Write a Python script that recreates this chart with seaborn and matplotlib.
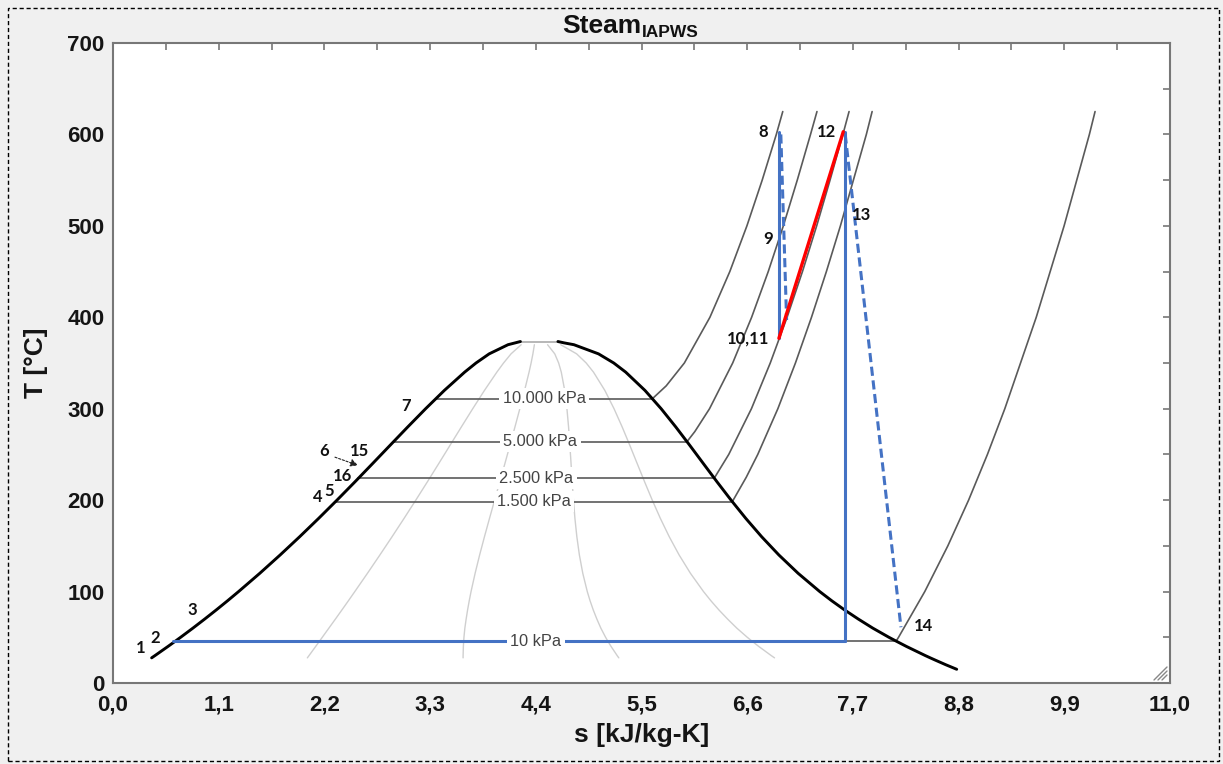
import numpy as np
import matplotlib
matplotlib.use("Agg")
import matplotlib.pyplot as plt
import matplotlib.patches as mpatches
import seaborn as sns

# ---------------- data ----------------
# saturation dome
T_sat = [15, 20, 25, 27.5, 30, 40, 45.81, 50, 60, 70, 80, 90, 100, 120, 140, 160,
         180, 200, 220, 240, 260, 280, 300, 320, 340, 350, 360, 370, 372]
s_f = [0.2245, 0.2966, 0.3673, 0.402, 0.4369, 0.5724, 0.6493, 0.7038, 0.8313, 0.9551,
       1.0756, 1.1929, 1.3069, 1.5278, 1.7391, 1.9427, 2.1396, 2.3309, 2.5178, 2.7015,
       2.8838, 3.0668, 3.2534, 3.4480, 3.6594, 3.7777, 3.9147, 4.1106, 4.185]
s_g = [8.7803, 8.6660, 8.5580, 8.505, 8.4533, 8.2569, 8.1502, 8.0748, 7.9072, 7.7553,
       7.6122, 7.4791, 7.3549, 7.1296, 6.9299, 6.7502, 6.5857, 6.4323, 6.2861, 6.1437,
       6.0019, 5.8571, 5.7045, 5.5362, 5.3357, 5.2112, 5.0526, 4.7971, 4.695]
crit_T = 373.5
crit_s_left = 4.24
crit_s_right = 4.63
liquid_start_T = 27.5
qualities = [0.2, 0.4, 0.6, 0.8]

# isobars: label, saturation T, superheated (T, s)
iso_labels = ["10.000 kPa", "5.000 kPa", "2.500 kPa", "1.500 kPa", "10 kPa"]
iso_Tsat = [311.0, 263.9, 224.0, 198.3, 45.81]
iso_sf = [3.360, 2.921, 2.554, 2.315, 0.6493]
iso_sg = [5.614, 5.973, 6.257, 6.445, 8.150]
iso_T_sup = [
    [311.0, 325, 350, 400, 450, 500, 550, 600, 625],
    [263.9, 275, 300, 350, 400, 450, 500, 550, 600, 625],
    [224.0, 250, 300, 350, 400, 450, 500, 550, 600, 625],
    [198.3, 225, 250, 300, 350, 400, 450, 500, 600, 625],
    [45.81, 50, 100, 150, 200, 250, 300, 400, 500, 600, 625],
]
iso_s_sup = [
    [5.614, 5.757, 5.946, 6.212, 6.419, 6.597, 6.756, 6.903, 6.970],
    [5.973, 6.055, 6.208, 6.449, 6.646, 6.819, 6.976, 7.121, 7.259, 7.326],
    [6.257, 6.408, 6.644, 6.840, 7.015, 7.175, 7.323, 7.462, 7.596, 7.660],
    [6.445, 6.590, 6.710, 6.919, 7.102, 7.269, 7.424, 7.570, 7.840, 7.900],
    [8.150, 8.175, 8.448, 8.688, 8.904, 9.100, 9.281, 9.608, 9.898, 10.161, 10.220],
]

# cycle lines
cond_s = [0.62, 7.62]
cond_T = [45.81, 45.81]
hp_ideal_s = [6.93, 6.93]
hp_ideal_T = [603, 377]
hp_real_s = [6.95, 7.01]
hp_real_T = [600, 397]
reheat_s = [6.93, 7.60]
reheat_T = [377, 603]
lp_ideal_s = [7.62, 7.62]
lp_ideal_T = [603, 45.81]
lp_real_s = [7.62, 8.20]
lp_real_T = [600, 61]

# state point labels
pt_labels = ["1", "2", "3", "4", "5", "16", "6", "15", "7", "8", "12", "9", "13", "10,11", "14"]
pt_s = [0.29, 0.44, 0.82, 2.13, 2.25, 2.39, 2.20, 2.56, 3.05, 6.77, 7.43, 6.82, 7.79, 6.61, 8.43]
pt_T = [38, 49, 80, 203, 210, 226, 254, 254, 303, 603, 603, 486, 512, 377, 62]
arrow_tail = (2.31, 247)
arrow_tip = (2.55, 238)

xtick_vals = [round(0.55 * i, 2) for i in range(21)]
ytick_vals = list(range(0, 701, 50))

# ---------------- styling ----------------
sns.set_theme(style="white")
plt.rcParams["font.family"] = ["Liberation Sans", "DejaVu Sans"]

W, H = 1223, 764
fig = plt.figure(figsize=(W / 100, H / 100), dpi=100, facecolor="#f0f0f0")
ax = fig.add_axes([113 / W, 1 - 683 / H, 1057 / W, 640 / H])
ax.set_facecolor("white")

blue = "#4472C4"
iso_col = "#5a5a5a"
q_col = "#cfcfcf"

# saturation dome
Ts = np.array(T_sat)
sf = np.array(s_f)
sg = np.array(s_g)
mask = Ts >= liquid_start_T
left_s = list(sf[mask]) + [crit_s_left]
left_T = list(Ts[mask]) + [crit_T]
right_s = [crit_s_right] + list(sg[::-1])
right_T = [crit_T] + list(Ts[::-1])
sns.lineplot(x=left_s, y=left_T, sort=False, estimator=None, color="black", lw=2.1, ax=ax, zorder=4)
sns.lineplot(x=right_s, y=right_T, sort=False, estimator=None, color="black", lw=2.1, ax=ax, zorder=4)
sns.lineplot(x=[crit_s_left, crit_s_right], y=[crit_T, crit_T], sort=False, estimator=None,
             color="#aaaaaa", lw=1.2, ax=ax, zorder=3)

# quality lines
qmask = mask & (Ts <= 370)
for q in qualities:
    qs = sf[qmask] + q * (sg[qmask] - sf[qmask])
    sns.lineplot(x=qs, y=Ts[qmask], sort=False, estimator=None, color=q_col, lw=1.0, ax=ax, zorder=1)

# isobars
for lab, tsat, a, b, tt, ss in zip(iso_labels, iso_Tsat, iso_sf, iso_sg, iso_T_sup, iso_s_sup):
    sns.lineplot(x=[a, b], y=[tsat, tsat], sort=False, estimator=None, color=iso_col, lw=1.2, ax=ax, zorder=2)
    sns.lineplot(x=ss, y=tt, sort=False, estimator=None, color=iso_col, lw=1.2, ax=ax, zorder=2)
    ax.text((a + b) / 2, tsat, lab, ha="center", va="center", fontsize=11.8, color="#444444",
            bbox=dict(boxstyle="square,pad=0.2", fc="white", ec="none"), zorder=6)

# cycle
sns.lineplot(x=cond_s, y=cond_T, sort=False, estimator=None, color=blue, lw=2.2, ax=ax, zorder=5)
sns.lineplot(x=hp_ideal_s, y=hp_ideal_T, sort=False, estimator=None, color=blue, lw=2.2, ax=ax, zorder=5)
sns.lineplot(x=lp_ideal_s, y=lp_ideal_T, sort=False, estimator=None, color=blue, lw=2.2, ax=ax, zorder=5)
ax.plot(hp_real_s, hp_real_T, color=blue, lw=2.2, ls=(0, (3, 1.5)), zorder=5)
ax.plot(lp_real_s, lp_real_T, color=blue, lw=2.2, ls=(0, (3, 1.5)), zorder=5)
sns.lineplot(x=reheat_s, y=reheat_T, sort=False, estimator=None, color="#ff0000", lw=2.4, ax=ax, zorder=5)

# point labels
for lab, s, t in zip(pt_labels, pt_s, pt_T):
    ax.text(s, t, lab, ha="center", va="center", fontsize=12, fontweight="bold",
            family=["Lato", "DejaVu Sans"], color="#111111", zorder=7)
ax.annotate("", xy=arrow_tip, xytext=arrow_tail,
            arrowprops=dict(arrowstyle="-|>", ls=(0, (2, 1.5)), color="#222222", lw=0.8,
                            mutation_scale=11, shrinkA=0, shrinkB=0), zorder=7)

# axes
ax.set_xlim(0, 11)
ax.set_ylim(0, 700)
ax.set_xticks(xtick_vals)
ax.set_xticklabels([f"{v:.1f}".replace(".", ",") if i % 2 == 0 else "" for i, v in enumerate(xtick_vals)])
ax.set_yticks(ytick_vals)
ax.set_yticklabels([str(v) if v % 100 == 0 else "" for v in ytick_vals])
ax.tick_params(direction="in", length=5, width=1.2, color="#777777", top=True, right=True,
               labelsize=16, labelcolor="#151515")
ax.tick_params(axis="x", pad=8)
ax.tick_params(axis="y", pad=6)
for lbl in ax.get_xticklabels() + ax.get_yticklabels():
    lbl.set_fontweight("bold")
for sp in ax.spines.values():
    sp.set_color("#777777")
    sp.set_linewidth(1.5)
ax.set_xlabel("s [kJ/kg-K]", fontsize=19, fontweight="bold", color="#151515", labelpad=6)
ax.set_ylabel("T [°C]", fontsize=19, fontweight="bold", color="#151515", labelpad=14)

# title (main text + subscript placed right after it)
t1 = fig.text(562 / W, 1 - 33 / H, "Steam", fontsize=19, fontweight="bold", ha="left",
              va="baseline", color="#111111")
fig.canvas.draw()
bb = t1.get_window_extent(renderer=fig.canvas.get_renderer())
fig.text(bb.x1 / W + 1 / W, 1 - 37 / H, "IAPWS", fontsize=12.5, fontweight="bold", ha="left",
         va="baseline", color="#111111")

# resize grip
cx, cy = (1167 - 113) / 1057, (683 - 680) / 640
for k in (5, 9, 13):
    ax.plot([cx - k / 1057, cx], [cy, cy + k / 640], transform=ax.transAxes, color="#888888", lw=1, zorder=8)

# dashed border
fig.patches.append(mpatches.Rectangle((8 / W, 1 - 761 / H), (1219 - 8) / W, (761 - 8) / H,
                                      transform=fig.transFigure, fill=False, ec="black",
                                      lw=1, ls=(0, (3, 2))))

fig.savefig("out.png", dpi=100, facecolor=fig.get_facecolor())
